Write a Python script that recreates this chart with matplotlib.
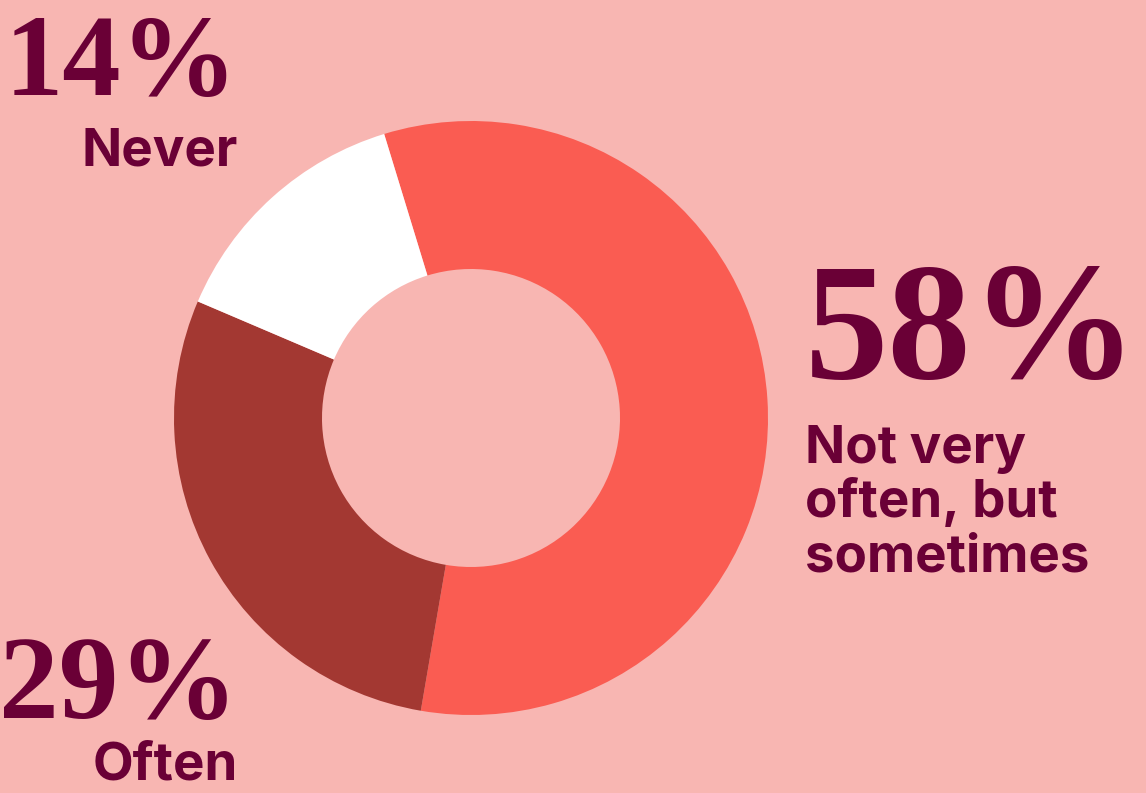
import matplotlib.pyplot as plt

# survey answer shares (%)
labels = ["Not very\noften, but\nsometimes", "Often", "Never"]
values = [58, 29, 14]
pct_text = ["58%", "29%", "14%"]
colors = ["#FA5C52", "#A33832", "#FFFFFF"]

bg = "#F8B6B2"
ink = "#6A0036"

fig = plt.figure(figsize=(11.46, 7.93), dpi=100, facecolor=bg)
ax = fig.add_axes([0, 0, 1, 1])
ax.set_facecolor(bg)

ax.pie(values, colors=colors, startangle=107, counterclock=False,
       center=(471, 375), radius=297,
       wedgeprops=dict(width=148, linewidth=0))
ax.set_xlim(0, 1146)
ax.set_ylim(0, 793)
ax.set_aspect("equal")
ax.axis("off")

serif = dict(family="Liberation Serif", weight="bold", color=ink)
sans = dict(family="Inter", weight="bold", color=ink)

# 14% Never (top left)
ax.text(238, 793 - 95, pct_text[2], ha="right", va="baseline", fontsize=84, **serif)
ax.text(238, 793 - 165, labels[2], ha="right", va="baseline", fontsize=38, **sans)

# 58% Not very often, but sometimes (right)
ax.text(805, 793 - 378, pct_text[0], ha="left", va="baseline", fontsize=120, **serif)
for i, line in enumerate(labels[0].split("\n")):
    ax.text(805, 793 - 463 - 54 * i, line, ha="left", va="baseline",
            fontsize=38, **sans)

# 29% Often (bottom left)
ax.text(238, 793 - 718, pct_text[1], ha="right", va="baseline", fontsize=86, **serif)
ax.text(238, 793 - 780, labels[1], ha="right", va="baseline", fontsize=38, **sans)

fig.savefig("out.png", dpi=100, facecolor=bg)
